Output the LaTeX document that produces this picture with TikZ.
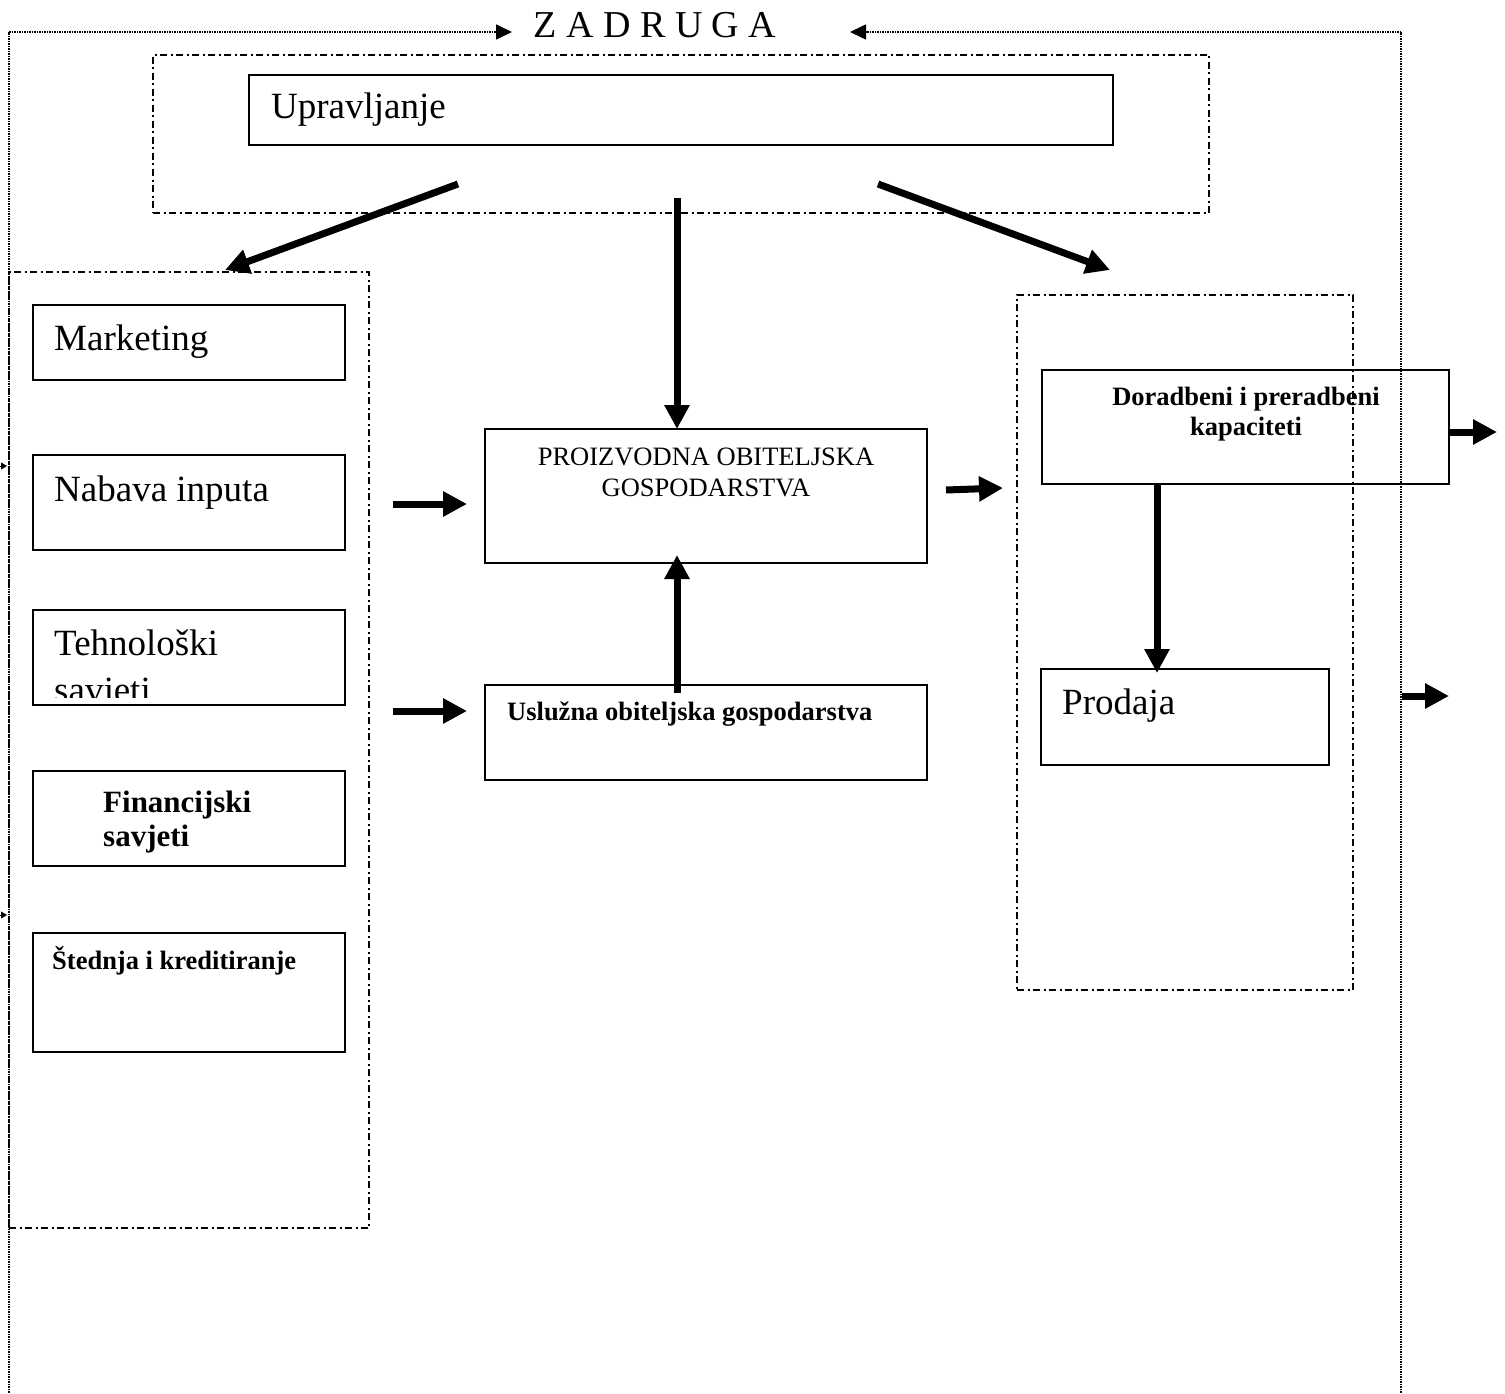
\documentclass[tikz,border=0pt]{standalone}
\usepackage{fontspec}
\setmainfont{Liberation Serif}
\usetikzlibrary{arrows.meta}
\begin{document}
\begin{tikzpicture}[x=1pt,y=-1pt,
  box/.style={draw, line width=2pt, inner sep=0pt, outer sep=0pt},
  grp/.style={draw, line width=1.6pt, dash pattern=on 7pt off 3.5pt on 2pt off 3.5pt, inner sep=0pt, outer sep=0pt},
  border/.style={line width=1.6pt, dash pattern=on 1.5pt off 1pt},
  bordarr/.style={border, -{Triangle[length=16pt,width=15pt]}},
  fat/.style={line width=7pt, -{Triangle[length=24pt,width=24pt]}},
  smallarr/.style={line width=1pt, -{Triangle[length=6pt,width=7pt]}},
  big/.style={font=\fontsize{37}{43}\selectfont, inner sep=0pt, anchor=base west},
  mid/.style={font=\fontsize{26.5}{31}\selectfont, inner sep=0pt},
  midb/.style={font=\fontsize{26.5}{31}\selectfont\bfseries, inner sep=0pt},
  finb/.style={font=\fontsize{31}{35}\selectfont\bfseries, inner sep=0pt, anchor=base west}
]
\useasboundingbox (0,0) rectangle (1505,1394);

% group frames
\node[grp, minimum width=1056pt, minimum height=158pt] (uprG) at (681,134) {};
\node[grp, minimum width=360pt, minimum height=956pt] (leftG) at (189,750) {};
\node[grp, minimum width=336pt, minimum height=695pt] (rightG) at (1185,642.5) {};

% outer border
\coordinate (oTL) at (9,32);
\coordinate (oBL) at (9,1400);
\coordinate (oTR) at (1401,32);
\coordinate (oBR) at (1401,1400);
\node[font=\fontsize{38}{46}\selectfont, inner sep=0pt, anchor=base] (zad) at (655,38) {Z A D R U G A};
\draw[border] (oBL) -- (oTL);
\draw[bordarr] (oTL) -- (512,32) coordinate (oArrL);
\draw[border] (oBR) -- (oTR);
\draw[bordarr] (oTR) -- (850,32) coordinate (oArrR);

% small arrows at the left edge
\coordinate (s1) at (-10,466);
\coordinate (s2) at (-10,915);
\draw[smallarr] (s1) -- (7,466);
\draw[smallarr] (s2) -- (7,915);

% boxes
\node[box, minimum width=864pt, minimum height=70pt] (upr) at (681,110) {};
\node[box, minimum width=312pt, minimum height=75pt] (mkt) at (189,342.5) {};
\node[box, minimum width=312pt, minimum height=95pt] (nab) at (189,502.5) {};
\node[box, minimum width=312pt, minimum height=95pt] (teh) at (189,657.5) {};
\node[box, minimum width=312pt, minimum height=95pt] (fin) at (189,818.5) {};
\node[box, minimum width=312pt, minimum height=119pt] (sted) at (189,992.5) {};
\node[box, minimum width=442pt, minimum height=134pt] (proiz) at (706,496) {};
\node[box, minimum width=442pt, minimum height=95pt] (usl) at (706,732.5) {};
\node[box, minimum width=407pt, minimum height=114pt] (dor) at (1245.5,427) {};
\node[box, minimum width=288pt, minimum height=96pt] (prod) at (1185,717) {};

% texts
\node[big] (tUpr) at (271,119) {Upravljanje};
\node[big] (tMkt) at (54,350) {Marketing};
\node[big] (tNab) at (54,501) {Nabava inputa};
\node[big] (tTeh1) at (54,655) {Tehnološki};
\begin{scope}
  \clip (33,610) rectangle (345,697);
  \node[big] (tTeh2) at (54,702) {savjeti};
\end{scope}
\node[finb] (tFin1) at (103,812) {Financijski};
\node[finb] (tFin2) at (103,846) {savjeti};
\node[midb, anchor=base west] (tSted) at (52,969) {Štednja i kreditiranje};
\node[mid, anchor=base] (tPro1) at (706,465) {PROIZVODNA OBITELJSKA};
\node[mid, anchor=base] (tPro2) at (706,496) {GOSPODARSTVA};
\node[midb, anchor=base west] (tUsl) at (507,720) {Uslužna obiteljska gospodarstva};
\node[midb, anchor=base] (tDor1) at (1246,405) {Doradbeni i preradbeni};
\node[midb, anchor=base] (tDor2) at (1246,435) {kapaciteti};
\node[big] (tProd) at (1062,714) {Prodaja};

% thick arrows
\coordinate (a1s) at (458,184);
\coordinate (a1e) at (225,270);
\coordinate (a2s) at (677,198);
\coordinate (a3s) at (878,184);
\coordinate (a3e) at (1110,270);
\draw[fat] (a1s) -- (a1e);
\draw[fat] (a2s) -- (a2s |- proiz.north);
\draw[fat] (a3s) -- (a3e);

\coordinate (h1s) at (393,504);
\coordinate (h1e) at (467,504);
\coordinate (h2s) at (393,711);
\coordinate (h2e) at (467,711);
\draw[fat] (h1s) -- (h1e);
\draw[fat] (h2s) -- (h2e);

\coordinate (u1s) at (677,693);
\draw[fat] (u1s) -- (677,555);

\coordinate (r1s) at (946,490);
\coordinate (r1e) at (1003,488);
\draw[fat] (r1s) -- (r1e);

\draw[fat] (1157,484) -- (1157,673);

\coordinate (r2e) at (1497,432);
\draw[fat] (dor.east |- r2e) -- (r2e);

\coordinate (r3s) at (1402,696);
\coordinate (r3e) at (1449,696);
\draw[fat] (r3s) -- (r3e);
\end{tikzpicture}
\end{document}
